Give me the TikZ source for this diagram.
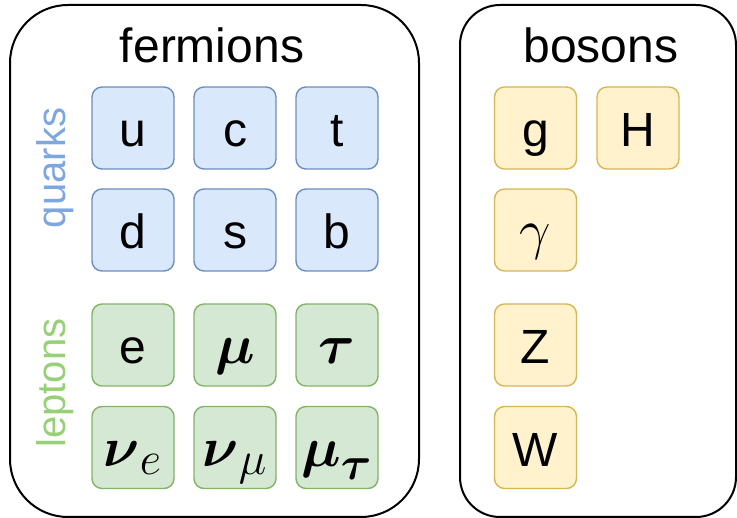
\documentclass[tikz,border=0pt]{standalone}
\usepackage{graphicx}
\usepackage{amsmath}
\usepackage{fontspec}
\setmainfont{Liberation Sans}
\definecolor{qfill}{HTML}{DAE8FC}
\definecolor{qline}{HTML}{6C8EBF}
\definecolor{lfill}{HTML}{D5E8D4}
\definecolor{lline}{HTML}{82B366}
\definecolor{bfill}{HTML}{FFF2CC}
\definecolor{bline}{HTML}{D6B656}
\definecolor{qtext}{HTML}{7EA6E0}
\definecolor{ltext}{HTML}{97D077}
\newcommand\mathsym[1]{\scalebox{2.25}{\fontsize{24.88}{30}\selectfont$#1$}}
\tikzset{
  outer/.style={draw=black, line width=2pt, rectangle, inner sep=0pt},
  cell/.style={rectangle, rounded corners=10pt, line width=1.4pt, minimum width=82pt, minimum height=82pt, inner sep=0pt,
    text height=38pt, text depth=0pt, font=\fontsize{48}{58}\selectfont},
  qbox/.style={cell, fill=qfill, draw=qline},
  lbox/.style={cell, fill=lfill, draw=lline},
  bbox/.style={cell, fill=bfill, draw=bline},
  title/.style={anchor=base, font=\fontsize{48}{58}\selectfont, inner sep=0pt},
  side/.style={anchor=base, rotate=90, font=\fontsize{40}{48}\selectfont, inner sep=0pt},
}
\begin{document}
\begin{tikzpicture}[x=1pt,y=-1pt]
\useasboundingbox (0,0) rectangle (737,518);
\node[outer, rounded corners=58pt, minimum width=409pt, minimum height=512pt] (ferm) at (214.5,261) {};
\node[outer, rounded corners=40pt, minimum width=276pt, minimum height=512pt] (bos) at (598,261) {};
\node[title] (fermt) at (212,63) {fermions};
\node[title] (bost) at (601,63) {bosons};
\node[side, text=qtext] (quarks) at (65,168) {quarks};
\node[side, text=ltext] (leptons) at (65,383) {leptons};
% quarks
\node[qbox] (u) at (133,128) {u};
\node[qbox] (c) at (235,128) {c};
\node[qbox] (t) at (337,128) {t};
\node[qbox] (d) at (133,230) {d};
\node[qbox] (s) at (235,230) {s};
\node[qbox] (b) at (337,230) {b};
% leptons
\node[lbox] (e) at (133,345) {e};
\node[lbox] (mu) at (235,345) {\mathsym{\boldsymbol{\mu}}};
\node[lbox] (tau) at (337,345) {\mathsym{\boldsymbol{\tau}}};
\node[lbox] (nue) at (133,447.5) {\mathsym{\boldsymbol{\nu}_e}};
\node[lbox] (numu) at (235,447.5) {\mathsym{\boldsymbol{\nu}_\mu}};
\node[lbox] (mutau) at (337,447.5) {\mathsym{\boldsymbol{\mu}_{\boldsymbol{\tau}}}};
% bosons
\node[bbox] (g) at (535.5,128) {g};
\node[bbox] (H) at (638,128) {H};
\node[bbox] (gamma) at (535.5,230) {\mathsym{\gamma}};
\node[bbox] (Z) at (535.5,345) {Z};
\node[bbox] (W) at (535.5,447.5) {W};
\end{tikzpicture}
\end{document}
